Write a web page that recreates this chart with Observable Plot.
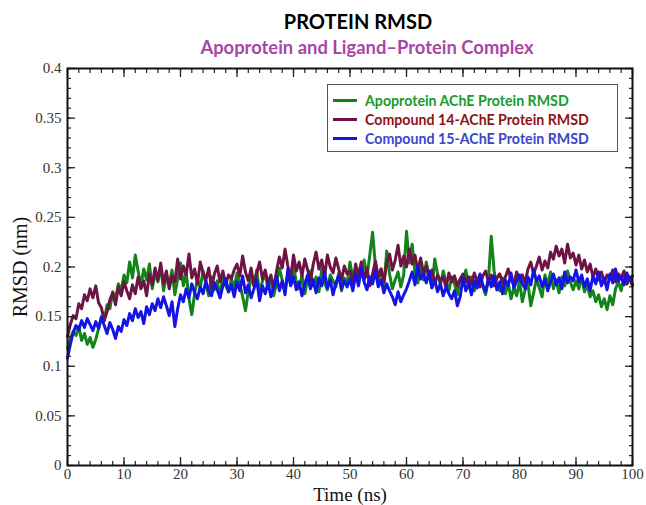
<!DOCTYPE html>
<html><head><meta charset="utf-8">
<script src="https://cdn.jsdelivr.net/npm/d3@7"></script>
<script src="https://cdn.jsdelivr.net/npm/@observablehq/plot@0.6"></script>
<style>
body{margin:0;background:#fff;}
#wrap{position:relative;width:646px;height:505px;}
#title{position:absolute;left:0;top:9px;width:646px;padding-left:70px;box-sizing:border-box;text-align:center;font-family:Lato,"Open Sans",sans-serif;font-weight:bold;font-size:20px;color:#000;}
#sub{position:absolute;left:0;top:36px;width:646px;padding-left:88px;box-sizing:border-box;text-align:center;font-family:Lato,"Open Sans",sans-serif;font-weight:bold;font-size:18.4px;color:#a846a6;}
#chart{position:absolute;left:0;top:58px;}
#legend{position:absolute;left:327px;top:84px;width:291px;height:68px;border:1.5px solid #555;background:#fff;box-sizing:border-box;font-family:Lato,"Open Sans",sans-serif;font-weight:bold;font-size:14.2px;}
.row{position:absolute;left:5px;height:18px;display:flex;align-items:center;}
.sw{width:24px;height:3px;margin-right:8px;}
</style></head>
<body><div id="wrap">
<div id="title">PROTEIN RMSD</div>
<div id="sub">Apoprotein and Ligand–Protein Complex</div>
<div id="chart"></div>
<div id="legend"></div>
</div>
<script>
const seriesNames = ["Apoprotein AChE Protein RMSD","Compound 14-AChE Protein RMSD","Compound 15-AChE Protein RMSD"];
const lineColors = ["#13841a","#6e1444","#1414e6"];
const textColors = ["#1a9a2c","#8c1418","#3a46cc"];
const timeStep = 0.5;
const xTicks = [0,10,20,30,40,50,60,70,80,90,100];
const yTicks = [0,0.05,0.1,0.15,0.2,0.25,0.3,0.35,0.4];

const apoprotein = [
0.118,0.128,0.135,0.131,0.140,0.126,0.133,0.122,0.129,0.119,0.127,0.138,0.150,0.146,0.162,0.158,0.175,0.168,0.183,0.176,
0.192,0.184,0.205,0.189,0.212,0.196,0.181,0.198,0.187,0.203,0.178,0.194,0.185,0.201,0.176,0.191,0.183,0.197,0.172,0.188,
0.204,0.181,0.195,0.168,0.152,0.173,0.188,0.179,0.196,0.183,0.171,0.190,0.177,0.186,0.169,0.192,0.181,0.175,0.188,0.179,
0.194,0.183,0.170,0.156,0.176,0.189,0.181,0.197,0.172,0.186,0.193,0.178,0.190,0.171,0.184,0.199,0.187,0.176,0.193,0.182,
0.201,0.185,0.178,0.192,0.173,0.188,0.196,0.181,0.190,0.175,0.198,0.184,0.177,0.192,0.186,0.180,0.194,0.176,0.189,0.183,
0.205,0.188,0.199,0.183,0.196,0.207,0.190,0.212,0.235,0.201,0.186,0.198,0.181,0.216,0.193,0.178,0.187,0.195,0.180,0.192,
0.236,0.204,0.223,0.193,0.184,0.199,0.187,0.205,0.191,0.179,0.208,0.193,0.182,0.196,0.185,0.176,0.190,0.183,0.172,0.188,
0.183,0.197,0.179,0.190,0.176,0.186,0.192,0.180,0.172,0.188,0.231,0.196,0.181,0.176,0.189,0.173,0.184,0.168,0.179,0.171,
0.186,0.165,0.177,0.183,0.161,0.174,0.188,0.179,0.170,0.192,0.182,0.195,0.178,0.187,0.174,0.190,0.181,0.196,0.185,0.177,
0.186,0.178,0.190,0.175,0.182,0.170,0.176,0.165,0.172,0.160,0.168,0.157,0.171,0.162,0.178,0.185,0.176,0.192,0.183,0.188,
0.181];
const compound14 = [
0.130,0.142,0.151,0.148,0.163,0.158,0.172,0.166,0.178,0.169,0.181,0.164,0.159,0.146,0.155,0.167,0.174,0.162,0.180,0.171,
0.185,0.176,0.168,0.182,0.173,0.190,0.178,0.186,0.171,0.193,0.182,0.199,0.187,0.204,0.183,0.196,0.178,0.191,0.185,0.208,
0.188,0.201,0.192,0.213,0.189,0.198,0.183,0.205,0.194,0.187,0.199,0.178,0.193,0.201,0.185,0.196,0.182,0.192,0.188,0.197,
0.203,0.191,0.211,0.195,0.186,0.199,0.181,0.194,0.205,0.188,0.197,0.183,0.192,0.178,0.196,0.210,0.199,0.218,0.201,0.189,
0.212,0.196,0.205,0.191,0.208,0.197,0.186,0.203,0.215,0.198,0.207,0.190,0.212,0.200,0.194,0.209,0.198,0.187,0.201,0.193,
0.196,0.184,0.203,0.191,0.205,0.187,0.199,0.181,0.193,0.206,0.190,0.198,0.185,0.204,0.213,0.197,0.207,0.222,0.201,0.211,
0.200,0.218,0.203,0.212,0.196,0.209,0.194,0.201,0.188,0.197,0.183,0.192,0.186,0.190,0.179,0.194,0.185,0.191,0.181,0.188,
0.193,0.185,0.190,0.182,0.194,0.186,0.180,0.191,0.196,0.185,0.192,0.181,0.189,0.193,0.184,0.190,0.198,0.187,0.183,0.195,
0.187,0.192,0.184,0.198,0.205,0.193,0.201,0.210,0.197,0.206,0.199,0.215,0.208,0.221,0.211,0.218,0.204,0.223,0.209,0.214,
0.202,0.212,0.198,0.207,0.195,0.203,0.190,0.198,0.187,0.195,0.184,0.192,0.188,0.197,0.185,0.193,0.189,0.196,0.183,0.190,
0.182];
const compound15 = [
0.108,0.122,0.134,0.141,0.137,0.146,0.139,0.148,0.142,0.136,0.145,0.138,0.149,0.141,0.133,0.144,0.137,0.128,0.140,0.135,
0.147,0.141,0.153,0.146,0.158,0.149,0.155,0.143,0.160,0.152,0.163,0.156,0.168,0.159,0.170,0.161,0.151,0.165,0.140,0.158,
0.172,0.165,0.178,0.169,0.183,0.174,0.168,0.180,0.173,0.186,0.176,0.171,0.184,0.177,0.169,0.181,0.188,0.175,0.182,0.170,
0.185,0.176,0.191,0.174,0.182,0.169,0.178,0.187,0.166,0.181,0.173,0.185,0.170,0.179,0.191,0.176,0.186,0.172,0.198,0.181,
0.190,0.177,0.185,0.171,0.183,0.192,0.178,0.187,0.174,0.189,0.181,0.195,0.179,0.187,0.172,0.184,0.191,0.178,0.186,0.180,
0.188,0.176,0.193,0.181,0.199,0.185,0.177,0.190,0.183,0.196,0.180,0.187,0.174,0.183,0.176,0.170,0.162,0.175,0.165,0.172,
0.178,0.186,0.195,0.182,0.201,0.188,0.193,0.184,0.196,0.179,0.187,0.175,0.183,0.171,0.180,0.173,0.168,0.176,0.161,0.170,
0.189,0.176,0.184,0.172,0.186,0.179,0.193,0.182,0.175,0.188,0.180,0.191,0.177,0.185,0.173,0.187,0.181,0.194,0.179,0.186,
0.192,0.183,0.178,0.190,0.182,0.197,0.186,0.191,0.180,0.188,0.176,0.185,0.193,0.182,0.189,0.178,0.195,0.184,0.190,0.186,
0.197,0.185,0.192,0.180,0.188,0.176,0.191,0.183,0.195,0.181,0.189,0.177,0.193,0.184,0.198,0.186,0.190,0.182,0.194,0.187,
0.191];

const allSeries = [apoprotein, compound14, compound15];
const rows = [];
allSeries.forEach((arr, s) => arr.forEach((v, i) => rows.push({series: seriesNames[s], t: i * timeStep, rmsd: v})));

const serif = "'Liberation Serif','DejaVu Serif',serif";
const fmt = d => String(+d.toFixed(2));

const plot = Plot.plot({
  width: 646, height: 447,
  marginTop: 10, marginBottom: 40, marginLeft: 67, marginRight: 14,
  style: {fontFamily: serif, color: "#222", background: "#fff"},
  x: {domain: [0, 100]},
  y: {domain: [0, 0.4]},
  color: {domain: seriesNames, range: lineColors},
  marks: [
    Plot.lineY(rows, {x: "t", y: "rmsd", z: "series", stroke: "series", strokeWidth: 3, strokeLinejoin: "round"}),
    Plot.axisX({anchor: "bottom", ticks: xTicks, tickSize: 0, tickPadding: 3, fontSize: 15, tickFormat: d => d, label: null, fill: "#333"}),
    Plot.axisX({anchor: "bottom", ticks: d3.range(0, 101, 10), tickSize: -8, text: null, label: null, strokeWidth: 1.3}),
    Plot.axisX({anchor: "bottom", ticks: d3.range(0, 101, 2), tickSize: -4, text: null, label: null, strokeWidth: 1.2}),
    Plot.axisX({anchor: "top", ticks: d3.range(0, 101, 10), tickSize: -8, text: null, label: null, strokeWidth: 1.3}),
    Plot.axisX({anchor: "top", ticks: d3.range(0, 101, 2), tickSize: -4, text: null, label: null, strokeWidth: 1.2}),
    Plot.axisX({anchor: "bottom", ticks: [], label: "Time (ns)", labelAnchor: "center", labelOffset: 35, labelArrow: "none", fontSize: 19, fill: "#111"}),
    Plot.axisY({anchor: "left", ticks: yTicks, tickSize: 0, tickPadding: 6, fontSize: 15, tickFormat: fmt, label: null, fill: "#333"}),
    Plot.axisY({anchor: "left", ticks: d3.range(0, 0.401, 0.05), tickSize: -8, text: null, label: null, strokeWidth: 1.3}),
    Plot.axisY({anchor: "left", ticks: d3.range(0, 0.401, 0.01), tickSize: -4, text: null, label: null, strokeWidth: 1.2}),
    Plot.axisY({anchor: "right", ticks: d3.range(0, 0.401, 0.05), tickSize: -8, text: null, label: null, strokeWidth: 1.3}),
    Plot.axisY({anchor: "right", ticks: d3.range(0, 0.401, 0.01), tickSize: -4, text: null, label: null, strokeWidth: 1.2}),
    Plot.axisY({anchor: "left", ticks: [], label: "RMSD (nm)", labelAnchor: "center", labelOffset: 55, labelArrow: "none", fontSize: 20, fill: "#111"}),
    Plot.frame({stroke: "#111", strokeWidth: 2})
  ]
});
document.getElementById("chart").appendChild(plot);

const leg = document.getElementById("legend");
seriesNames.forEach((name, i) => {
  const r = document.createElement("div");
  r.className = "row";
  r.style.top = (6 + i * 19) + "px";
  const sw = document.createElement("div");
  sw.className = "sw"; sw.style.background = lineColors[i];
  const tx = document.createElement("span");
  tx.textContent = name; tx.style.color = textColors[i];
  r.appendChild(sw); r.appendChild(tx);
  leg.appendChild(r);
});
</script>
</body></html>
